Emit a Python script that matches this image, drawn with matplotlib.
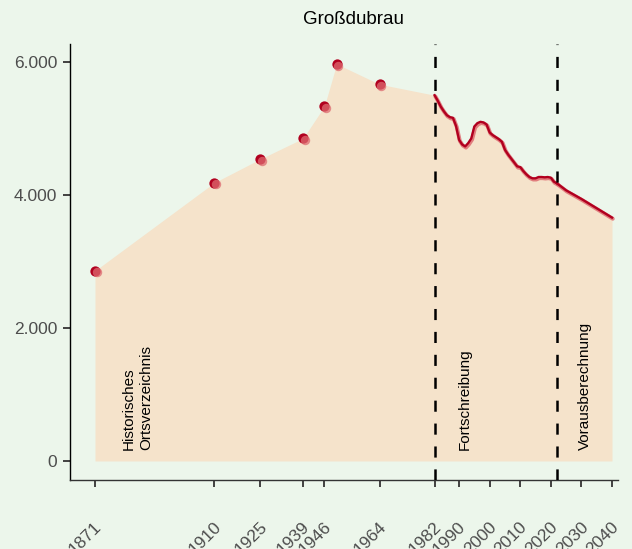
import matplotlib
matplotlib.use("Agg")
import matplotlib.pyplot as plt
import matplotlib.transforms as mtransforms
import numpy as np

# ---- data ----
hist_years = [1871, 1910, 1925, 1939, 1946, 1950, 1964]
hist_pop = [2860, 4185, 4540, 4850, 5335, 5970, 5665]

fort_years = list(range(1982, 2023))
fort_pop = [5500, 5420, 5330, 5260, 5200, 5170, 5160, 5040, 4830, 4760,
            4730, 4780, 4850, 5030, 5080, 5100, 5090, 5060, 4940, 4900,
            4870, 4840, 4800, 4680, 4610, 4550, 4490, 4430, 4420, 4360,
            4310, 4270, 4250, 4250, 4270, 4270, 4265, 4270, 4260, 4200,
            4175]

proj_years = [2022, 2025, 2030, 2035, 2040]
proj_pop = [4175, 4070, 3940, 3800, 3660]

xticks = [1871, 1910, 1925, 1939, 1946, 1964, 1982, 1990, 2000, 2010, 2020, 2030, 2040]
yticks = [0, 2000, 4000, 6000]
ytick_labels = ["0", "2.000", "4.000", "6.000"]
phase_lines = [1982, 2022]
title = "Großdubrau"
phase_texts = [(1884.9, "Historisches\nOrtsverzeichnis"), (1991.8, "Fortschreibung"),
               (2031.3, "Vorausberechnung")]

# ---- style ----
bg = "#ecf6eb"
fill_col = "#f5e3cb"
dark = "#b1001f"
light = "#de6b70"
tick_col = "#4d4d4d"
plt.rcParams["font.family"] = ["Liberation Sans", "DejaVu Sans"]
plt.rcParams["lines.scale_dashes"] = False

fig = plt.figure(figsize=(6.32, 5.49), dpi=100, facecolor=bg)
ax = fig.add_axes([70 / 632, 1 - 480 / 549, 548 / 632, 436 / 549], facecolor=bg)

area_x = hist_years + fort_years + proj_years[1:]
area_y = hist_pop + fort_pop + proj_pop[1:]
ax.fill_between(area_x, 0, area_y, color=fill_col, lw=0, zorder=1)

# lines with light shadow
shadow = mtransforms.offset_copy(ax.transData, fig=fig, x=0.8, y=-1.2, units="dots")
for xs, ys in [(fort_years, fort_pop), (proj_years, proj_pop)]:
    ax.plot(xs, ys, color=light, lw=2.8, alpha=0.85, transform=shadow, zorder=3,
            solid_capstyle="round", solid_joinstyle="round")
    ax.plot(xs, ys, color=dark, lw=1.7, zorder=4, solid_joinstyle="round")

# points
pshadow = mtransforms.offset_copy(ax.transData, fig=fig, x=1.6, y=-1.6, units="dots")
ax.scatter(hist_years, hist_pop, s=55, color=dark, lw=0, zorder=5)
ax.scatter(hist_years, hist_pop, s=46, color=light, alpha=0.75, lw=0, zorder=6,
           transform=pshadow)

for x in phase_lines:
    ax.axvline(x, color="black", lw=1.8, dashes=(8, 8.5), zorder=7)

for x, t in phase_texts:
    ax.text(x, 165, t, rotation=90, ha="center", va="bottom", multialignment="left",
            fontsize=11, color="black", zorder=8, linespacing=1.3)

ax.set_xlim(1862.83, 2041.96)
ax.set_ylim(-286, 6270)

ax.set_xticks(xticks)
ax.set_xticklabels([str(v) for v in xticks], rotation=45, ha="right", va="top",
                   rotation_mode="anchor", fontsize=12.5, color=tick_col)
ax.set_yticks(yticks)
ax.set_yticklabels(ytick_labels, fontsize=12.5, color=tick_col)
ax.tick_params(axis="x", length=5, width=1.3, color="#333333", pad=23)
ax.tick_params(axis="y", length=5, width=1.3, color="#333333", pad=4)
off = mtransforms.ScaledTranslation(-1 / 100, 0, fig.dpi_scale_trans)
for lab in ax.get_xticklabels():
    lab.set_transform(lab.get_transform() + off)

for s in ["top", "right"]:
    ax.spines[s].set_visible(False)
ax.spines["left"].set_color("black")
ax.spines["bottom"].set_color("#333333")
ax.spines["left"].set_linewidth(1.0)
ax.spines["bottom"].set_linewidth(1.0)

fig.text(353 / 632, 1 - 20 / 549, title, ha="center", va="center", fontsize=13.5,
         color="black")

fig.savefig("out.png", dpi=100, facecolor=bg)
